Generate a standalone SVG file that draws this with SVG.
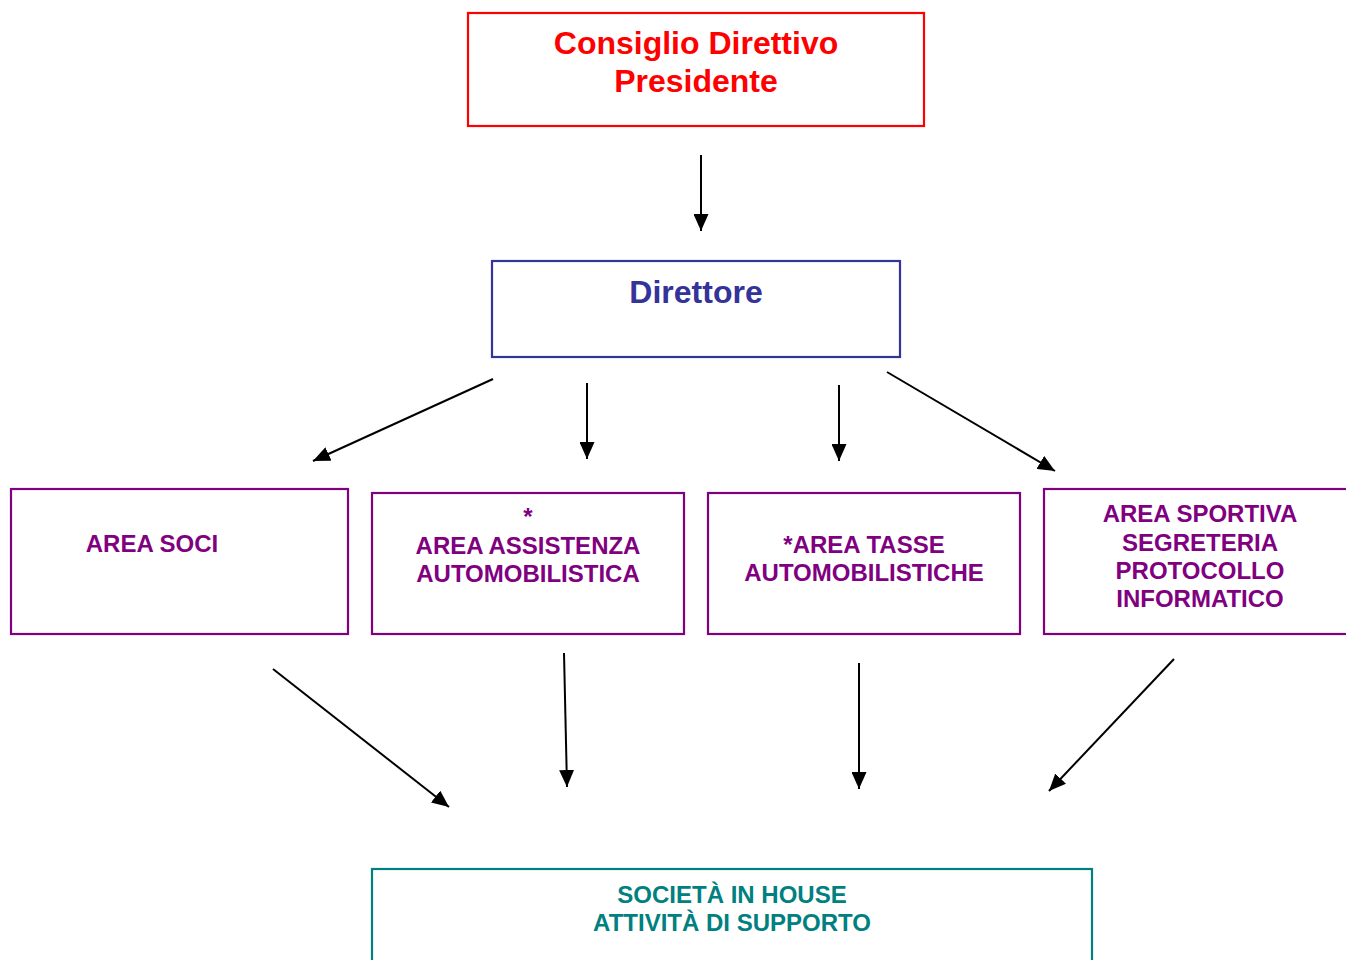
<svg xmlns="http://www.w3.org/2000/svg" width="1346" height="960" viewBox="0 0 1346 960">
<style>
  text { font-family: "Liberation Sans", Arial, sans-serif; font-weight: bold; text-anchor: middle; }
  .box { fill: #ffffff; stroke-width: 2.2; }
  .red { stroke: #ff0000; }
  .blue { stroke: #333399; }
  .purple { stroke: #800080; }
  .teal { stroke: #008080; }
  .t-red { fill: #ff0000; font-size: 32px; }
  .t-blue { fill: #333399; font-size: 32px; }
  .t-purple { fill: #800080; font-size: 24px; }
  .t-teal { fill: #008080; font-size: 24px; }
  .conn line { stroke: #000000; stroke-width: 2; marker-end: url(#arrow); }
</style>
<defs>
  <marker id="arrow" viewBox="0 0 17 15" refX="17" refY="7.5" markerWidth="17" markerHeight="15" markerUnits="userSpaceOnUse" orient="auto">
    <path d="M0,0 L17,7.5 L0,15 z" fill="#000000"/>
  </marker>
</defs>
<rect width="1346" height="960" fill="#ffffff"/>

<g id="consiglio">
  <rect class="box red" x="468" y="13" width="456" height="113"/>
  <text class="t-red" x="696" y="54">Consiglio Direttivo</text>
  <text class="t-red" x="696" y="92">Presidente</text>
</g>

<g id="direttore">
  <rect class="box blue" x="492" y="261" width="408" height="96"/>
  <text class="t-blue" x="696" y="303">Direttore</text>
</g>

<g id="area-soci">
  <rect class="box purple" x="11" y="489" width="337" height="145"/>
  <text class="t-purple" x="152" y="552">AREA SOCI</text>
</g>

<g id="area-assistenza">
  <rect class="box purple" x="372" y="493" width="312" height="141"/>
  <text class="t-purple" x="528" y="525">*</text>
  <text class="t-purple" x="528" y="554">AREA ASSISTENZA</text>
  <text class="t-purple" x="528" y="582">AUTOMOBILISTICA</text>
</g>

<g id="area-tasse">
  <rect class="box purple" x="708" y="493" width="312" height="141"/>
  <text class="t-purple" x="864" y="553">*AREA TASSE</text>
  <text class="t-purple" x="864" y="581">AUTOMOBILISTICHE</text>
</g>

<g id="area-sportiva">
  <rect class="box purple" x="1044" y="489" width="320" height="145"/>
  <text class="t-purple" x="1200" y="522">AREA SPORTIVA</text>
  <text class="t-purple" x="1200" y="551">SEGRETERIA</text>
  <text class="t-purple" x="1200" y="579">PROTOCOLLO</text>
  <text class="t-purple" x="1200" y="607">INFORMATICO</text>
</g>

<g id="societa-in-house">
  <rect class="box teal" x="372" y="869" width="720" height="110"/>
  <text class="t-teal" x="732" y="903">SOCIETÀ IN HOUSE</text>
  <text class="t-teal" x="732" y="931">ATTIVITÀ DI SUPPORTO</text>
</g>

<g id="connectors" class="conn">
  <line x1="701" y1="155" x2="701" y2="231"/>
  <line x1="493" y1="379" x2="313" y2="461"/>
  <line x1="587" y1="383" x2="587" y2="459"/>
  <line x1="839" y1="385" x2="839" y2="461"/>
  <line x1="887" y1="372" x2="1055" y2="471"/>
  <line x1="273" y1="669" x2="449" y2="807"/>
  <line x1="564" y1="653" x2="567" y2="787"/>
  <line x1="859" y1="663" x2="859" y2="789"/>
  <line x1="1174" y1="659" x2="1049" y2="791"/>
</g>
</svg>
